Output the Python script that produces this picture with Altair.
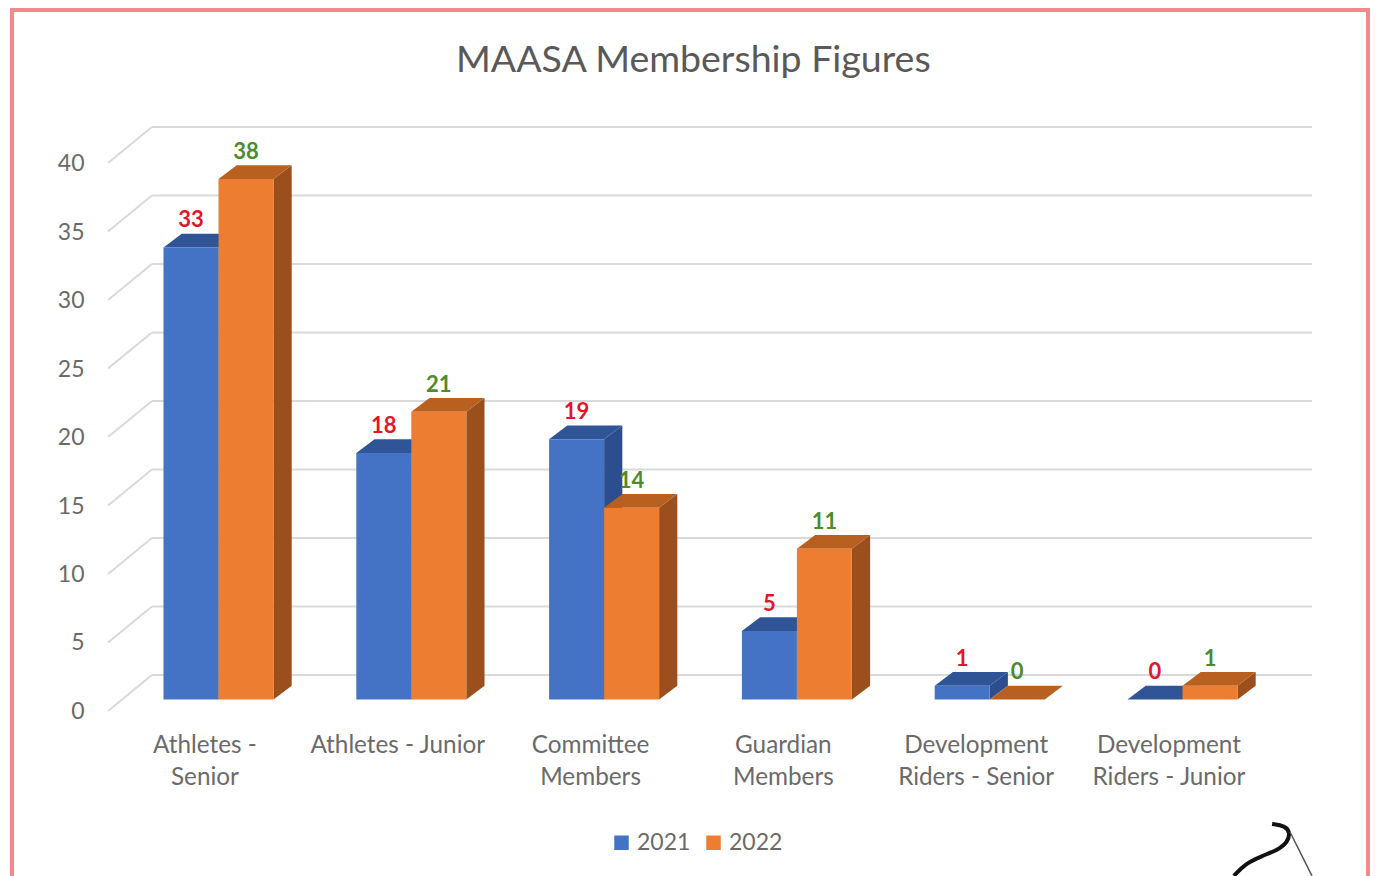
import json
import altair as alt
import pandas as pd

categories = [["Athletes -", "Senior"], ["Athletes - Junior"], ["Committee", "Members"],
              ["Guardian", "Members"], ["Development", "Riders - Senior"], ["Development", "Riders - Junior"]]
v2021 = [33, 18, 19, 5, 1, 0]
v2022 = [38, 21, 14, 11, 0, 1]
y_ticks = [0, 5, 10, 15, 20, 25, 30, 35, 40]
logo_u = [5.75, 5.817, 5.843, 5.832, 5.78, 5.697, 5.609, 5.552]
logo_v = [-9.09, -9.23, -9.67, -10.4, -10.99, -11.42, -12.0, -12.88]

FONT = "Lato"
TXT = "#6a6a6a"
W, D_X, D_Y = 0.2853, 0.0944, 1.0     # bar width, bar depth (x, y) in scale units
BACK_X, BACK_Y, FRONT_Y = -0.06, 1.79, -0.84
X_DOM, Y_DOM = [-0.2879, 5.957], [-0.84, 41.79]
LABEL_SHIFT = 0.2124

xs = alt.Scale(domain=X_DOM, nice=False, zero=False)
ys = alt.Scale(domain=Y_DOM, nice=False, zero=False)
label_expr = json.dumps(categories) + f"[round(datum.value - {LABEL_SHIFT})]"
x_axis = alt.Axis(values=[i + LABEL_SHIFT for i in range(6)], labelExpr=label_expr, title=None,
                  domain=False, ticks=False, grid=False, labelFont=FONT, labelFontSize=24.3,
                  labelColor=TXT, labelPadding=22, labelLineHeight=32, labelOverlap=False,
                  labelFlush=False, labelBound=False, labelAngle=0)
y_axis = alt.Axis(values=y_ticks, title=None, domain=False, ticks=False, grid=False, labelFont=FONT,
                  labelFontSize=23, labelColor=TXT, labelPadding=24, labelOffset=12,
                  labelOverlap=False, labelBound=False)
X = lambda f: alt.X(f, type="quantitative", scale=xs, axis=x_axis)
Y = lambda f: alt.Y(f, type="quantitative", scale=ys, axis=y_axis)

rows, sides, tops = [], [], []
for si, (name, vals) in enumerate([("2021", v2021), ("2022", v2022)]):
    for i, v in enumerate(vals):
        L = i + si * W
        R = L + W
        rows.append(dict(series=name, x=L, x2=R, v=v, base=0, cx=L + W / 2, ly=v + 1.98))
        for px, a, b in [(R, 0, v), (R + D_X, D_Y, v + D_Y)]:
            sides.append(dict(series=name, bar=i, x=px, lo=a, hi=b))
        for px, a, b in [(L, v, v), (L + D_X, v, v + D_Y), (R, v, v + D_Y), (R + D_X, v + D_Y, v + D_Y)]:
            tops.append(dict(series=name, bar=i, x=px, lo=a, hi=b))
rows, sides, tops = map(pd.DataFrame, (rows, sides, tops))

grid = pd.DataFrame([dict(v=t, back=t + BACK_Y, front=t + FRONT_Y) for t in y_ticks])
grid["x0"], grid["x1"], grid["x2"] = X_DOM[0], BACK_X, X_DOM[1]

border = alt.Chart(pd.DataFrame({"a": [0]})).mark_rect(
    fill="transparent", stroke="#F2898E", strokeWidth=4, clip=False
).encode(x=alt.value(-96), x2=alt.value(1260), y=alt.value(-117), y2=alt.value(900))

wall = alt.Chart(grid).mark_rule(color="#D9D9D9", strokeWidth=2).encode(
    x=X("x1"), x2="x2:Q", y=Y("back"))
diag = alt.Chart(grid).mark_rule(color="#D9D9D9", strokeWidth=2).encode(
    x=X("x0"), x2="x1:Q", y=Y("front"), y2="back:Q")

def faces(name, front, side, top):
    s = alt.Chart(sides[sides.series == name]).mark_area(color=side, clip=False).encode(
        x=X("x"), y=Y("lo"), y2="hi:Q", detail="bar:N")
    t = alt.Chart(tops[tops.series == name]).mark_area(color=top, clip=False).encode(
        x=X("x"), y=Y("lo"), y2="hi:Q", detail="bar:N")
    f = alt.Chart(rows[rows.series == name]).mark_rect().encode(
        x=X("x"), x2="x2:Q", y=Y("base"), y2="v:Q",
        color=alt.Color("series:N", scale=alt.Scale(domain=["2021", "2022"], range=["#4472C4", "#ED7D31"]),
                        legend=alt.Legend(title=None, orient="none", legendX=502, legendY=704,
                                          direction="horizontal", symbolType="square", symbolSize=210,
                                          symbolStrokeWidth=0, labelFont=FONT, labelFontSize=23,
                                          labelColor=TXT, columnPadding=11, labelOffset=4)))
    return [s, t, f]

def labels(name, color):
    return alt.Chart(rows[rows.series == name]).mark_text(
        font=FONT, fontWeight="bold", fontSize=22, color=color, baseline="middle"
    ).encode(x=X("cx"), y=Y("ly"), text="v:Q")

logo = pd.DataFrame({"u": logo_u, "v": logo_v, "o": range(len(logo_u))})
logo_line = alt.Chart(logo).mark_line(color="#111111", strokeWidth=4, interpolate="basis", clip=False).encode(
    x=X("u"), y=Y("v"), order="o:Q")
logo_thin = alt.Chart(pd.DataFrame({"u": [5.843], "u2": [5.957], "v": [-9.67], "v2": [-12.88]})).mark_rule(
    color="#555555", strokeWidth=1.5).encode(x=X("u"), x2="u2:Q", y=Y("v"), y2="v2:Q")

chart = alt.layer(
    border, wall, diag,
    *faces("2021", "#4472C4", "#2C4D8E", "#2F5597"),
    *faces("2022", "#ED7D31", "#9A4F1C", "#B8601F"),
    labels("2021", "#E3142B"), labels("2022", "#4E8A2E"),
    logo_line, logo_thin,
).properties(
    width=1204, height=584,
    title=alt.Title("MAASA Membership Figures", font=FONT, fontSize=37.5, fontWeight="normal",
                    color="#595959", anchor="start", offset=0, dy=71, dx=446),
    autosize=alt.AutoSizeParams(type="none"),
    padding={"left": 100, "top": 119, "right": 58, "bottom": 165},
).configure_view(stroke=None)

chart.save("out.html", embed_options={"renderer": "svg", "actions": False})
